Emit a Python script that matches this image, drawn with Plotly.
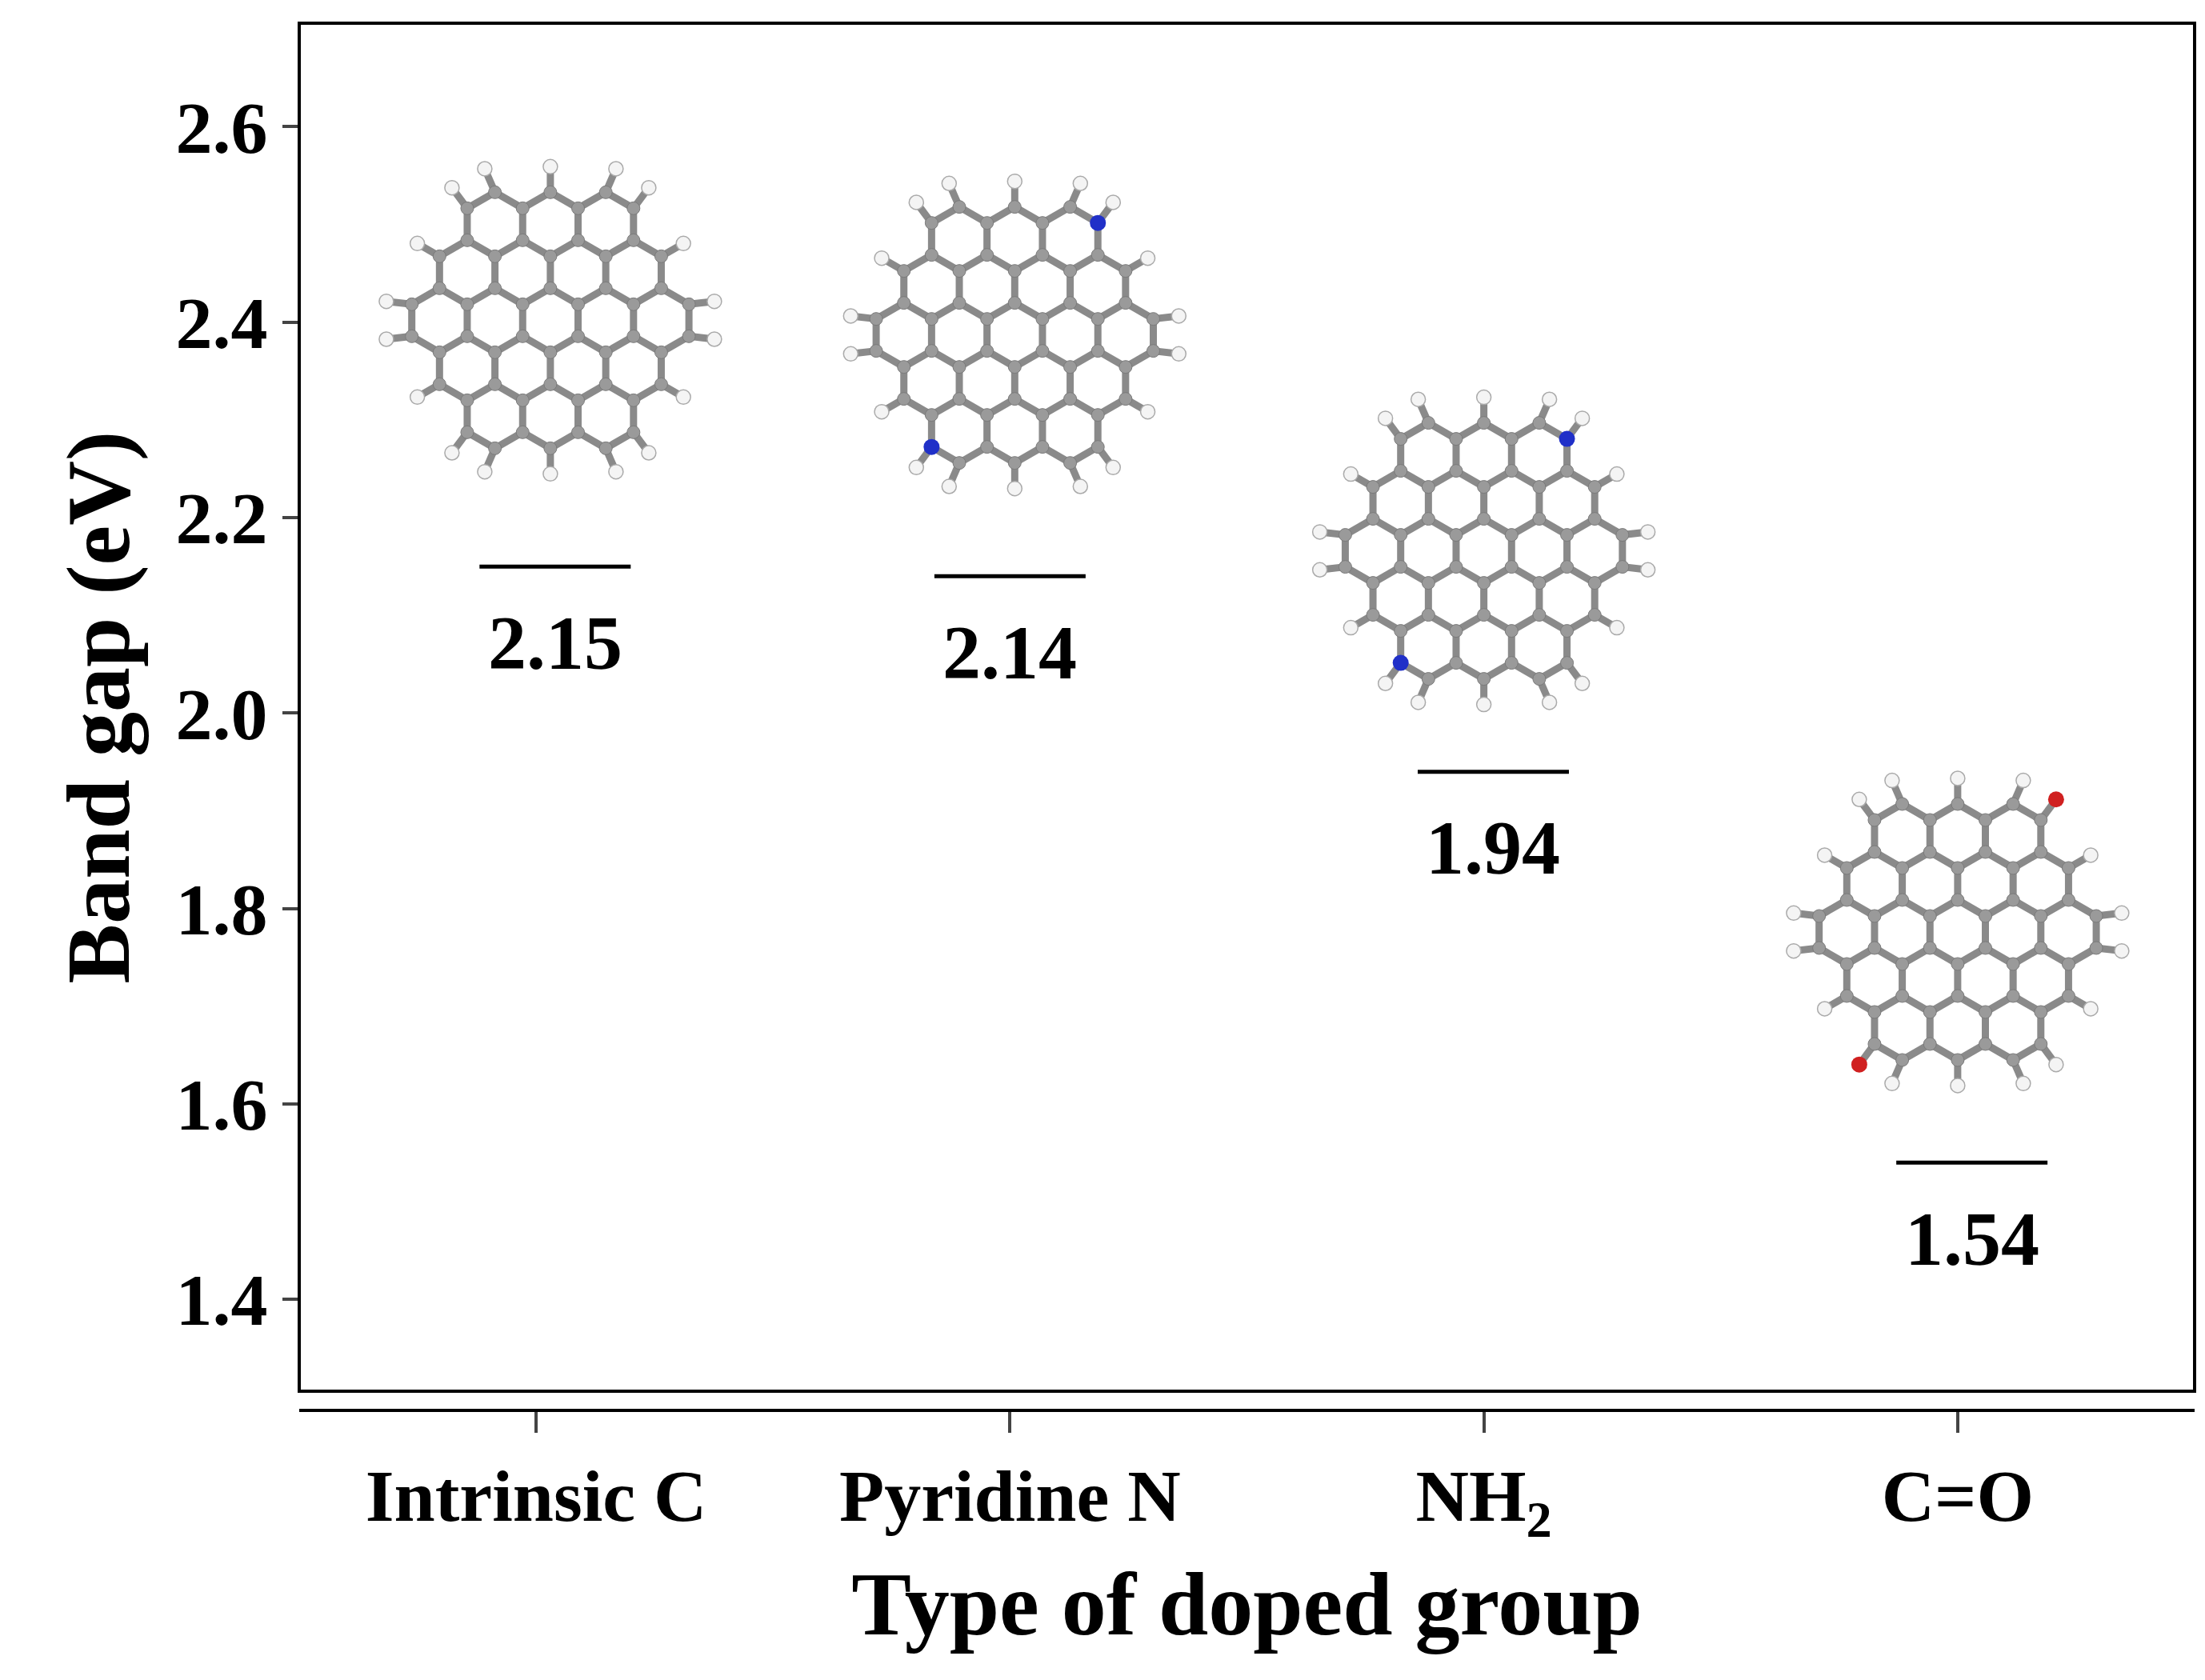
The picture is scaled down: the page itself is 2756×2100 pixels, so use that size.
import numpy as np
import plotly.graph_objects as go

categories = ["Intrinsic C", "Pyridine N", "NH<sub>2</sub>", "C=O"]
band_gap = [2.15, 2.14, 1.94, 1.54]
labels = ["2.15", "2.14", "1.94", "1.54"]
level_offset = [0.04, 0.0, 0.02, 0.03]
mol_center_y = [2.402, 2.387, 2.166, 1.776]
mol_center_x = [0.03, 0.01, 0.0, 0.0]
dopant_color = [None, "#2030c8", "#2030c8", "#d02020"]

W, H = 2756, 2100
ml, mr, mt, mb = 366, 21, 21, 345
xr = [-0.5, 3.5]
yr = [1.306, 2.706]
ydom0 = 0.0138
pw = W - ml - mr
ph = (H - mt - mb) * (1 - ydom0)
px_x = (xr[1] - xr[0]) / pw
px_y = (yr[1] - yr[0]) / ph

b = 40.0
rc = []
a = np.sqrt(3) * b
for i in range(-3, 4):
    for j in range(-3, 4):
        cx = a * (i + j / 2)
        cy = a * j * np.sqrt(3) / 2
        if np.hypot(cx, cy) <= 2 * a + 1:
            rc.append((cx, cy))
atoms = []
for cx, cy in rc:
    for k in range(6):
        ang = np.pi / 6 + k * np.pi / 3
        p = (cx + b * np.cos(ang), cy + b * np.sin(ang))
        if not any(np.hypot(p[0] - q[0], p[1] - q[1]) < 1 for q in atoms):
            atoms.append(p)
atoms = np.array(atoms)
bonds = []
deg = np.zeros(len(atoms), int)
for i in range(len(atoms)):
    for j in range(i + 1, len(atoms)):
        if abs(np.hypot(*(atoms[i] - atoms[j])) - b) < 1:
            bonds.append((i, j)); deg[i] += 1; deg[j] += 1
edge = [i for i in range(len(atoms)) if deg[i] == 2]
hyd = {i: atoms[i] / np.linalg.norm(atoms[i]) * (np.linalg.norm(atoms[i]) + 0.8 * b) for i in edge}
edge_sorted = sorted(edge, key=lambda i: np.arctan2(atoms[i][1], atoms[i][0]))

fig = go.Figure()
for m in range(4):
    cx0, cy0 = m + mol_center_x[m], mol_center_y[m]
    conv = lambda p: (cx0 + p[0] * px_x, cy0 + p[1] * px_y)
    dop = set()
    if dopant_color[m]:
        dop = {edge_sorted[2], edge_sorted[2 + len(edge_sorted) // 2]}
    bx, by = [], []
    for i, j in bonds:
        p, q = conv(atoms[i]), conv(atoms[j])
        bx += [p[0], q[0], None]; by += [p[1], q[1], None]
    for i in edge:
        p, q = conv(atoms[i]), conv(hyd[i])
        bx += [p[0], q[0], None]; by += [p[1], q[1], None]
    fig.add_trace(go.Scatter(x=bx, y=by, mode="lines", line=dict(color="#8a8a8a", width=9),
                             hoverinfo="skip", showlegend=False))
    hx = [conv(hyd[i])[0] for i in edge if not (i in dop and m == 3)]
    hy = [conv(hyd[i])[1] for i in edge if not (i in dop and m == 3)]
    fig.add_trace(go.Scatter(x=hx, y=hy, mode="markers",
                             marker=dict(size=18, color="#f4f4f4", line=dict(color="#aaaaaa", width=1.5)),
                             hoverinfo="skip", showlegend=False))
    ca = [conv(p) for p in atoms]
    fig.add_trace(go.Scatter(x=[c[0] for c in ca], y=[c[1] for c in ca], mode="markers",
                             marker=dict(size=16, color="#9a9a9a", line=dict(color="#7a7a7a", width=1)),
                             hoverinfo="skip", showlegend=False))
    if dop:
        pts = [conv(hyd[i]) for i in dop] if m == 3 else [conv(atoms[i]) for i in dop]
        fig.add_trace(go.Scatter(x=[p[0] for p in pts], y=[p[1] for p in pts], mode="markers",
                                 marker=dict(size=20, color=dopant_color[m]),
                                 hoverinfo="skip", showlegend=False))

xs = [i + level_offset[i] for i in range(4)]
fig.add_trace(go.Scatter(x=xs, y=band_gap, mode="markers",
                         marker=dict(symbol="line-ew-open", size=135, color="black",
                                     line=dict(color="black", width=5)),
                         hoverinfo="skip", showlegend=False))
for i in range(4):
    fig.add_annotation(x=xs[i], y=band_gap[i], text="<b>%s</b>" % labels[i], showarrow=False,
                       yshift=-95, font=dict(size=96, color="black", family="Liberation Serif"))

fig.add_shape(type="rect", xref="x domain", yref="y domain", x0=0, x1=1, y0=0, y1=1,
              line=dict(color="black", width=4))

fig.update_layout(
    width=W, height=H, margin=dict(l=ml, r=mr, t=mt, b=mb),
    plot_bgcolor="white", paper_bgcolor="white",
    font=dict(family="Liberation Serif", color="black"),
    xaxis=dict(range=xr, tickvals=[0, 1, 2, 3], ticktext=["<b>%s</b>" % c for c in categories],
               anchor="free", position=0, showline=True, linecolor="black", linewidth=4,
               ticks="outside", ticklen=26, tickwidth=4, tickfont=dict(size=92),
               showgrid=False, zeroline=False,
               title=dict(text="<b>Type of doped group</b>", font=dict(size=112), standoff=30)),
    yaxis=dict(range=yr, domain=[ydom0, 1], tickvals=[1.4, 1.6, 1.8, 2.0, 2.2, 2.4, 2.6],
               ticktext=["<b>%.1f</b>" % v for v in [1.4, 1.6, 1.8, 2.0, 2.2, 2.4, 2.6]],
               ticks="outside", ticklen=20, tickwidth=4, tickfont=dict(size=92),
               showline=False, showgrid=False, zeroline=False,
               title=dict(text="<b>Band gap (eV)</b>", font=dict(size=112), standoff=20)),
)
fig.write_html("out.html")
